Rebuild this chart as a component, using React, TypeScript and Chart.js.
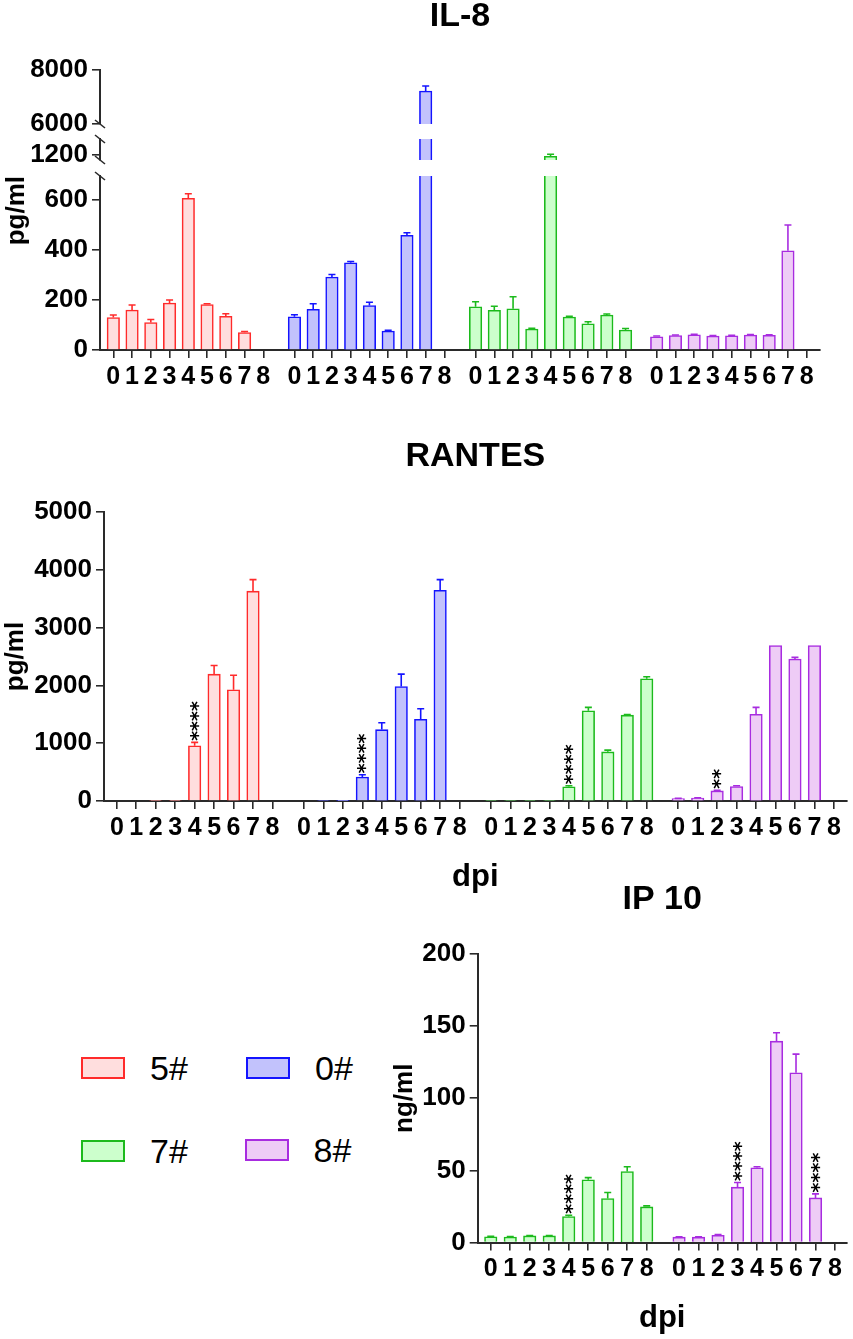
import React, { useEffect, useRef } from 'react';
import { Chart, registerables } from 'chart.js';

Chart.register(...registerables);

// ---------------- data ----------------
const days = ['0', '1', '2', '3', '4', '5', '6', '7', '8'];
const strains = ['5#', '0#', '7#', '8#'];

// IL-8 (pg/ml)
const il8Mean5 = [130, 160, 110, 188, 607, 182, 135, 70, null];
const il8Err5 = [10, 20, 12, 12, 18, 3, 10, 4, null];
const il8Mean0 = [133, 163, 292, 349, 178, 76, 459, 7220, null];
const il8Err0 = [8, 22, 10, 5, 13, 3, 10, 190, null];
const il8Mean7 = [173, 159, 165, 84, 1195, 132, 105, 140, 80];
const il8Err7 = [20, 16, 48, 3, 8, 3, 8, 4, 6];
const il8Mean8 = [53, 58, 61, 56, 57, 60, 59, 397, null];
const il8Err8 = [3, 2, 2, 2, 2, 2, 2, 103, null];
const il8TicksTop = [6000, 8000];
const il8TicksMid = [1200];
const il8TicksLow = [0, 200, 400, 600];

// RANTES (pg/ml)
const rantesMean5 = [0, 0, 10, 10, 955, 2195, 1925, 3630, null];
const rantesErr5 = [0, 0, 0, 0, 60, 150, 250, 200, null];
const rantesMean0 = [0, 12, 5, 415, 1235, 1980, 1415, 3645, null];
const rantesErr0 = [0, 0, 0, 40, 120, 215, 180, 185, null];
const rantesMean7 = [12, 12, 12, 12, 245, 1560, 850, 1485, 2115];
const rantesErr7 = [0, 0, 0, 0, 20, 60, 30, 12, 35];
const rantesMean8 = [40, 50, 175, 250, 1500, 2690, 2455, 2690, null];
const rantesErr8 = [5, 5, 12, 15, 120, 0, 30, 0, null];
const rantesSig5 = ['', '', '', '', '****', '', '', '', ''];
const rantesSig0 = ['', '', '', '****', '', '', '', '', ''];
const rantesSig7 = ['', '', '', '', '****', '', '', '', ''];
const rantesSig8 = ['', '', '**', '', '', '', '', '', ''];
const rantesTicks = [0, 1000, 2000, 3000, 4000, 5000];

// IP 10 (ng/ml)
const ip10Mean7 = [4, 3.8, 4.6, 4.6, 18, 43.5, 30.5, 49.2, 24.7];
const ip10Err7 = [0.3, 0.3, 0.3, 0.3, 0.9, 1.5, 4.2, 3.3, 0.7];
const ip10Mean8 = [3.7, 3.7, 5, 38.4, 51.8, 139.6, 117.7, 30.9, null];
const ip10Err8 = [0.3, 0.3, 0.5, 3.2, 0.7, 5.8, 12.9, 2.8, null];
const ip10Sig7 = ['', '', '', '', '****', '', '', '', ''];
const ip10Sig8 = ['', '', '', '****', '', '', '', '****', ''];
const ip10Ticks = [0, 50, 100, 150, 200];

// ---------------- styles ----------------
const FONT = "'Liberation Sans', Arial, Helvetica, sans-serif";
const AXIS = '#2a2a2a';
const strokes = ['#ff2b2b', '#1414ff', '#1cba1c', '#a82ce0'];
const fills = ['#ffdede', '#c2c2fc', '#ccffcc', '#eeccf6'];
const BAR_W = 12.5;

type Pt = { x: number; y: any; v: number; e: number; s: string; cut: boolean; showErr: boolean };

function seriesPoints(means: (number | null)[], errs: (number | null)[], sigs: string[] | null, group: number, stride: number): Pt[] {
  const pts: Pt[] = [];
  means.forEach((v, d) => {
    if (v === null) return;
    pts.push({ x: group * stride + d, y: v, v, e: errs[d] ?? 0, s: sigs ? sigs[d] : '', cut: false, showErr: true });
  });
  return pts;
}

function segmentPoints(means: (number | null)[], errs: (number | null)[], group: number, stride: number, min: number, max: number): Pt[] {
  const pts: Pt[] = [];
  means.forEach((v, d) => {
    if (v === null || v <= min) return;
    pts.push({ x: group * stride + d, y: [min, Math.min(v, max)], v, e: errs[d] ?? 0, s: '', cut: v > max, showErr: v <= max });
  });
  return pts;
}

function barDataset(pts: Pt[], k: number, yAxisID: string) {
  return {
    type: 'bar',
    label: strains[k],
    data: pts,
    xAxisID: 'x',
    yAxisID,
    backgroundColor: fills[k],
    borderColor: strokes[k],
    borderWidth: (c: any) => (c.raw && c.raw.cut ? { top: 0, right: 1.6, bottom: 0, left: 1.6 } : 1.6),
    borderSkipped: 'start',
    barThickness: BAR_W,
    grouped: false,
  };
}

function positions(groups: number, stride: number) {
  const out: number[] = [];
  for (let g = 0; g < groups; g++) days.forEach((_d, i) => out.push(g * stride + i));
  return out;
}

function xScale(min: number, max: number, pos: number[], height: number, withTitle: boolean) {
  return {
    type: 'linear',
    position: 'bottom',
    min,
    max,
    offset: false,
    afterBuildTicks: (axis: any) => {
      axis.ticks = pos.map((value) => ({ value }));
    },
    afterFit: (axis: any) => {
      axis.height = height;
    },
    ticks: {
      autoSkip: false,
      maxRotation: 0,
      minRotation: 0,
      padding: 4,
      color: '#000',
      font: { size: 25, weight: 'bold', family: FONT },
      callback: (_v: any, i: number) => days[i % days.length],
    },
    grid: { display: true, drawOnChartArea: false, drawTicks: true, tickLength: 8, color: AXIS, lineWidth: 1.6, offset: false },
    border: { display: true, color: AXIS, width: 2 },
    title: withTitle
      ? { display: true, text: 'dpi', color: '#000', font: { size: 31, weight: 'bold', family: FONT, lineHeight: 1.2 }, padding: 0 }
      : { display: false },
  };
}

function yScale(min: number, max: number, ticks: number[], width: number, extra: any = {}) {
  return {
    type: 'linear',
    position: 'left',
    min,
    max,
    afterBuildTicks: (axis: any) => {
      axis.ticks = ticks.map((value) => ({ value }));
    },
    afterFit: (axis: any) => {
      axis.width = width;
    },
    ticks: {
      padding: 4,
      color: '#000',
      font: { size: 26, weight: 'bold', family: FONT },
      autoSkip: false,
      callback: (v: any) => String(v),
    },
    grid: { display: true, drawOnChartArea: false, drawTicks: true, tickLength: 8, color: AXIS, lineWidth: 1.6 },
    border: { display: true, color: AXIS, width: 2 },
    ...extra,
  };
}

function gapScale(stack: string, stackWeight: number, weight: number, width: number) {
  return {
    type: 'linear',
    position: 'left',
    stack,
    stackWeight,
    weight,
    min: 0,
    max: 1,
    afterFit: (axis: any) => {
      axis.width = width;
    },
    ticks: { display: false },
    grid: { display: false },
    border: { display: false },
  };
}

function yTitle(text: string, padTop: number, align = 'center') {
  return {
    display: true,
    text,
    align,
    color: '#000',
    font: { size: 26, weight: 'bold', family: FONT, lineHeight: 1.2 },
    padding: { top: padTop, bottom: 0 },
  };
}

function titleOpts(text: string, top: number, bottom: number) {
  return {
    display: true,
    text,
    fullSize: false,
    color: '#000',
    font: { size: 34, weight: 'bold', family: FONT, lineHeight: 1 },
    padding: { top, bottom },
  };
}

function drawStars(ctx: CanvasRenderingContext2D, x: number, yTop: number, text: string) {
  ctx.save();
  ctx.font = "bold 19px 'DejaVu Sans', sans-serif";
  const m = ctx.measureText('*');
  const mid = (m.actualBoundingBoxAscent - m.actualBoundingBoxDescent) / 2;
  ctx.translate(x + mid, yTop - 1.5);
  ctx.rotate(-Math.PI / 2);
  ctx.textAlign = 'left';
  ctx.textBaseline = 'alphabetic';
  ctx.fillStyle = '#000';
  ctx.fillText(text, 0, 0);
  ctx.restore();
}

const errorBarPlugin = {
  id: 'errorBars',
  afterDatasetsDraw(chart: any) {
    const ctx: CanvasRenderingContext2D = chart.ctx;
    chart.data.datasets.forEach((ds: any, di: number) => {
      const meta = chart.getDatasetMeta(di);
      const ys = meta.yScale;
      meta.data.forEach((el: any, i: number) => {
        const p: Pt = ds.data[i];
        if (!p || !p.showErr) return;
        const y0 = ys.getPixelForValue(p.v);
        const y1 = ys.getPixelForValue(p.v + (p.e || 0));
        if (p.e) {
          ctx.save();
          ctx.strokeStyle = ds.borderColor;
          ctx.lineWidth = 1.6;
          ctx.beginPath();
          ctx.moveTo(el.x, y0);
          ctx.lineTo(el.x, y1);
          ctx.moveTo(el.x - 3.5, y1);
          ctx.lineTo(el.x + 3.5, y1);
          ctx.stroke();
          ctx.restore();
        }
        if (p.s) drawStars(ctx, el.x, Math.min(y0, y1), p.s);
      });
    });
  },
};

const breakPlugin = {
  id: 'breakMarks',
  afterDraw(chart: any) {
    const ctx: CanvasRenderingContext2D = chart.ctx;
    const x = chart.chartArea.left;
    const s = chart.scales;
    const ys = [s.yTop.bottom, s.yMid.top, s.yMid.bottom, s.yLow.top];
    ctx.save();
    ctx.strokeStyle = AXIS;
    ctx.lineWidth = 1.6;
    ys.forEach((y: number) => {
      ctx.beginPath();
      ctx.moveTo(x - 5, y - 4);
      ctx.lineTo(x + 5, y + 4);
      ctx.stroke();
    });
    ctx.restore();
  },
};

function baseOptions(title: any, scales: any, padRight: number) {
  return {
    responsive: false,
    maintainAspectRatio: false,
    animation: false,
    events: [],
    layout: { padding: { left: 0, right: padRight, top: 0, bottom: 0 } },
    plugins: { legend: { display: false }, tooltip: { enabled: false }, title },
    scales,
  };
}

function il8Config(): any {
  const stride = 9.66;
  const pos = positions(4, stride);
  const segs = [
    { id: 'yTop', min: 6000, max: 8000 },
    { id: 'yMid', min: 1180, max: 1264 },
    { id: 'yLow', min: 0, max: 696 },
  ];
  const means = [il8Mean5, il8Mean0, il8Mean7, il8Mean8];
  const errs = [il8Err5, il8Err0, il8Err7, il8Err8];
  const datasets: any[] = [];
  segs.forEach((sg) => {
    means.forEach((m, k) => {
      datasets.push(barDataset(segmentPoints(m, errs[k], k, stride, sg.min, sg.max), k, sg.id));
    });
  });
  const W = 100;
  const scales = {
    x: xScale(-0.71, 3 * stride + 8 + 0.71, pos, 41, false),
    yTop: yScale(6000, 8000, il8TicksTop, W, { stack: 'il8', stackWeight: 54, weight: 5 }),
    yGap1: gapScale('il8', 15, 4, W),
    yMid: yScale(1180, 1264, il8TicksMid, W, { stack: 'il8', stackWeight: 21, weight: 3 }),
    yGap2: gapScale('il8', 16, 2, W),
    yLow: yScale(0, 696, il8TicksLow, W, { stack: 'il8', stackWeight: 174, weight: 1, title: yTitle('pg/ml', 1, 'end') }),
  };
  return {
    type: 'bar',
    data: { datasets },
    options: baseOptions(titleOpts('IL-8', 0, 36), scales, 33),
    plugins: [errorBarPlugin, breakPlugin],
  };
}

function rantesConfig(): any {
  const stride = 9.62;
  const pos = positions(4, stride);
  const pts = [
    seriesPoints(rantesMean5, rantesErr5, rantesSig5, 0, stride),
    seriesPoints(rantesMean0, rantesErr0, rantesSig0, 1, stride),
    seriesPoints(rantesMean7, rantesErr7, rantesSig7, 2, stride),
    seriesPoints(rantesMean8, rantesErr8, rantesSig8, 3, stride),
  ];
  const datasets = pts.map((p, k) => barDataset(p, k, 'y'));
  const scales = {
    x: xScale(-0.66, 3 * stride + 8 + 0.66, pos, 95, true),
    y: yScale(0, 5000, rantesTicks, 104, { title: yTitle('pg/ml', 0) }),
  };
  return {
    type: 'bar',
    data: { datasets },
    options: baseOptions(titleOpts('RANTES', 10, 38), scales, 6.3),
    plugins: [errorBarPlugin],
  };
}

function ip10Config(): any {
  const stride = 9.66;
  const pos = positions(2, stride);
  const datasets = [
    barDataset(seriesPoints(ip10Mean7, ip10Err7, ip10Sig7, 0, stride), 2, 'y'),
    barDataset(seriesPoints(ip10Mean8, ip10Err8, ip10Sig8, 1, stride), 3, 'y'),
  ];
  const scales = {
    x: xScale(-0.67, stride + 8 + 0.6, pos, 94.5, true),
    y: yScale(0, 200, ip10Ticks, 97.7, { title: yTitle('ng/ml', 9) }),
  };
  return {
    type: 'bar',
    data: { datasets },
    options: baseOptions(titleOpts('IP 10', 13, 37), scales, 6.3),
    plugins: [errorBarPlugin],
  };
}

const legendItems = [
  { k: 0, left: 81, top: 1057 },
  { k: 1, left: 246, top: 1057 },
  { k: 2, left: 81, top: 1139.5 },
  { k: 3, left: 244.5, top: 1138.5 },
];

export default function App() {
  const r1 = useRef<HTMLCanvasElement>(null);
  const r2 = useRef<HTMLCanvasElement>(null);
  const r3 = useRef<HTMLCanvasElement>(null);

  useEffect(() => {
    Chart.defaults.font.family = FONT;
    Chart.defaults.color = '#000';
    const charts = [
      new Chart(r1.current as HTMLCanvasElement, il8Config()),
      new Chart(r2.current as HTMLCanvasElement, rantesConfig()),
      new Chart(r3.current as HTMLCanvasElement, ip10Config()),
    ];
    return () => charts.forEach((c) => c.destroy());
  }, []);

  const cv = (left: number, top: number, w: number, h: number): React.CSSProperties => ({
    position: 'absolute',
    left,
    top,
    width: w,
    height: h,
  });

  return (
    <div style={{ position: 'absolute', left: 0, top: 0, width: 853, height: 1339, background: '#fff', overflow: 'hidden' }}>
      <canvas ref={r1} width={853} height={391} style={cv(0, 0, 853, 391)} />
      <canvas ref={r2} width={853} height={466} style={cv(0, 430, 853, 466)} />
      <canvas ref={r3} width={473} height={467} style={cv(380, 870, 473, 467)} />
      {legendItems.map((it) => (
        <div key={it.k}>
          <div
            style={{
              position: 'absolute',
              left: it.left,
              top: it.top,
              width: 44,
              height: 22,
              boxSizing: 'border-box',
              border: `2px solid ${strokes[it.k]}`,
              background: fills[it.k],
            }}
          />
          <div
            style={{
              position: 'absolute',
              left: it.left + 44 + 25,
              top: it.top + 11 - 17,
              height: 34,
              lineHeight: '34px',
              fontSize: 34,
              fontFamily: FONT,
              color: '#000',
              whiteSpace: 'nowrap',
            }}
          >
            {strains[it.k]}
          </div>
        </div>
      ))}
    </div>
  );
}
